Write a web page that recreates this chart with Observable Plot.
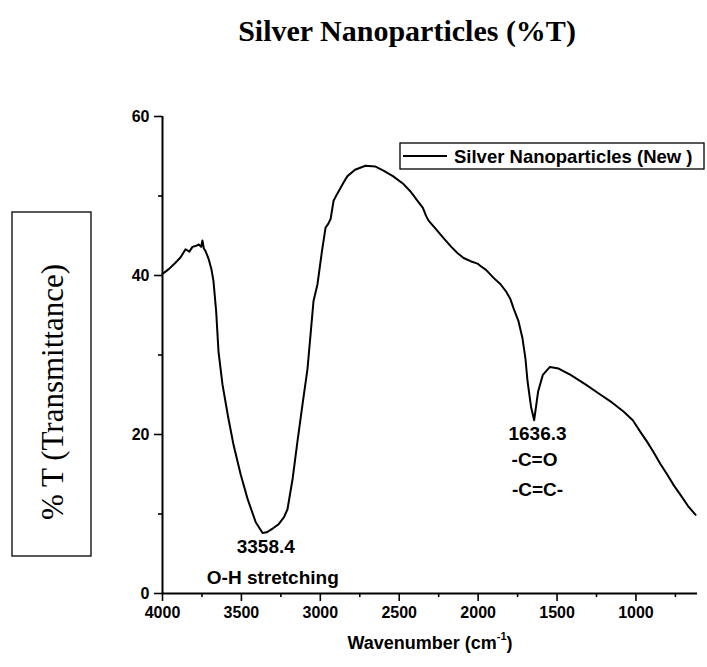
<!DOCTYPE html>
<html><head><meta charset="utf-8">
<script src="https://cdn.jsdelivr.net/npm/d3@7"></script>
<script src="https://cdn.jsdelivr.net/npm/@observablehq/plot@0.6"></script>
<style>body{margin:0;background:#fff} #chart{position:relative;width:707px;height:667px}</style>
</head><body><div id="chart"></div>
<script>
const wavenumber = [4000,3960,3918,3885,3854,3830,3810,3791,3770,3755,3747,3738,3728,3708,3690,3677,3660,3645,3620,3585,3550,3505,3461,3410,3366,3340,3300,3265,3230,3208,3175,3145,3110,3081,3060,3043,3018,2990,2967,2950,2935,2916,2895,2872,2850,2828,2780,2714,2650,2600,2540,2473,2430,2384,2350,2330,2314,2270,2219,2170,2130,2092,2048,2004,1985,1950,1902,1858,1820,1795,1776,1745,1719,1700,1687,1665,1645,1620,1590,1545,1490,1414,1320,1224,1150,1079,1020,971,930,889,845,800,760,718,670,622];
const transmittance = [40.2,40.8,41.6,42.3,43.3,43.0,43.6,43.7,43.9,43.6,44.4,43.4,43.1,42.1,40.8,39.3,35.5,30.4,26.3,22.3,18.7,15.0,11.9,9.0,7.6,7.7,8.2,8.7,9.6,10.6,14.5,19.1,24.2,28.3,33.0,36.8,38.9,43.0,46.0,46.5,47.1,49.4,50.2,51.0,51.8,52.5,53.3,53.8,53.7,53.2,52.5,51.5,50.6,49.4,48.5,47.5,46.9,45.9,44.7,43.6,42.8,42.2,41.8,41.5,41.2,40.7,39.7,38.9,37.9,37.0,35.9,34.3,32.1,29.5,26.7,23.5,21.8,25.4,27.5,28.5,28.3,27.5,26.3,25.0,24.0,22.9,21.8,20.3,19.1,17.8,16.3,14.9,13.6,12.4,11.0,9.9];
const xMajorTicks = [4000,3500,3000,2500,2000,1500,1000];
const xMinorTicks = [3750,3250,2750,2250,1750,1250,750];
const yMajorTicks = [0,20,40,60];
const yMinorTicks = [10,30,50];
const peakWavenumbers = [3358.4, 1636.3];
const peakValues = [7.6, 21.8];
const peakLabels = ["3358.4", "1636.3"];
const titleText = "Silver Nanoparticles (%T)";
const seriesName = "Silver Nanoparticles (New )";
const yLabelText = "% T (Transmittance)";

const data = wavenumber.map((w, i) => ({w, t: transmittance[i]}));
const peaks = peakWavenumbers.map((w, i) => ({w, t: peakValues[i], label: peakLabels[i]}));

const plot = Plot.plot({
  width: 707, height: 667,
  marginTop: 116, marginBottom: 74, marginLeft: 162, marginRight: 10,
  x: {domain: [4000, 610]},
  y: {domain: [0, 60]},
  style: {fontFamily: "'Liberation Sans', Arial, sans-serif", fontSize: "16px", fontWeight: "bold", color: "#000", background: "#fff"},
  marks: [
    Plot.axisX({ticks: xMajorTicks, tickSize: 8, tickPadding: 5, strokeWidth: 1.6, label: null, tickFormat: d => String(d)}),
    Plot.axisX({ticks: xMinorTicks, tickSize: 4, strokeWidth: 1.6, label: null, tickFormat: () => ""}),
    Plot.axisY({ticks: yMajorTicks, tickSize: 8, tickPadding: 5, strokeWidth: 1.6, label: null, tickFormat: d => String(d)}),
    Plot.axisY({ticks: yMinorTicks, tickSize: 4, strokeWidth: 1.6, label: null, tickFormat: () => ""}),
    Plot.ruleY([0], {strokeWidth: 2}),
    Plot.ruleX([4000], {strokeWidth: 2}),
    Plot.line(data, {x: "w", y: "t", stroke: "black", strokeWidth: 2}),
    Plot.text(peaks, {x: "w", y: "t", text: "label", dy: 14, dx: 2, fontSize: 19, fontWeight: "bold"}),
    Plot.text([peaks[0]], {x: "w", y: "t", text: () => "O-H stretching", dx: 9, dy: 45, fontSize: 19, fontWeight: "bold"}),
    Plot.text([peaks[1]], {x: "w", y: "t", text: () => "-C=O", dx: -1, dy: 40, fontSize: 19, fontWeight: "bold"}),
    Plot.text([peaks[1]], {x: "w", y: "t", text: () => "-C=C-", dx: 2, dy: 70, fontSize: 19, fontWeight: "bold"})
  ]
});
document.getElementById("chart").appendChild(plot);

const svg = d3.select(plot);
// Title
svg.append("text").attr("x", 407).attr("y", 30).attr("text-anchor", "middle").attr("dominant-baseline", "central")
  .style("font-family", "'Liberation Serif', 'Times New Roman', serif").style("font-size", "30px").style("font-weight", "bold")
  .text(titleText);
// Legend
svg.append("rect").attr("x", 400).attr("y", 143).attr("width", 304).attr("height", 26)
  .attr("fill", "#fff").attr("stroke", "#000").attr("stroke-width", 1.3);
svg.append("line").attr("x1", 403).attr("x2", 447).attr("y1", 156).attr("y2", 156).attr("stroke", "#000").attr("stroke-width", 2);
svg.append("text").attr("x", 454).attr("y", 156).attr("text-anchor", "start").attr("dominant-baseline", "central")
  .style("font-size", "18.5px").style("font-weight", "bold").text(seriesName);
// Y label box
svg.append("rect").attr("x", 12).attr("y", 212).attr("width", 79).attr("height", 344)
  .attr("fill", "none").attr("stroke", "#000").attr("stroke-width", 1.3);
svg.append("text").attr("transform", "translate(52,392) rotate(-90)").attr("text-anchor", "middle").attr("dominant-baseline", "central")
  .style("font-family", "'Liberation Serif', 'Times New Roman', serif").style("font-size", "31px").style("font-weight", "normal")
  .text(yLabelText);
// X label
const xl = svg.append("text").attr("x", 430).attr("y", 643).attr("text-anchor", "middle").attr("dominant-baseline", "central")
  .style("font-size", "18px").style("font-weight", "bold");
xl.append("tspan").text("Wavenumber (cm");
xl.append("tspan").attr("dy", -7).style("font-size", "11px").text("-1");
xl.append("tspan").attr("dy", 7).text(")");
</script>
</body></html>
